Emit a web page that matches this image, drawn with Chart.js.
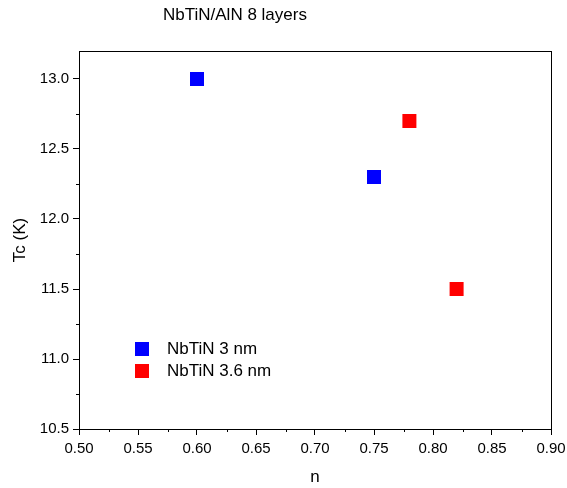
<!DOCTYPE html>
<html><head><meta charset="utf-8">
<script src="https://cdn.jsdelivr.net/npm/chart.js@4.4.0/dist/chart.umd.min.js"></script>
<style>html,body{margin:0;padding:0;background:#fff}</style>
</head><body><canvas id="c" width="567" height="488"></canvas>
<script>
const titleText = 'NbTiN/AlN 8 layers';
const xTitle = 'n';
const yTitle = 'Tc (K)';
const seriesNames = ['NbTiN 3 nm', 'NbTiN 3.6 nm'];
const seriesColors = ['#0000ff', '#ff0000'];
const nb3_n = [0.60, 0.75];
const nb3_tc = [13.0, 12.3];
const nb36_n = [0.78, 0.82];
const nb36_tc = [12.7, 11.5];
const xMin = 0.50, xMax = 0.90, xStep = 0.05;
const yMin = 10.5, yMax = 13.2, yStep = 0.5;

const FONT = "'Liberation Sans', Arial, sans-serif";

function pts(xs, ys){ return xs.map((x,i)=>({x:x, y:ys[i]})); }

const decorPlugin = {
  id: 'decor',
  afterDraw(chart){
    const ctx = chart.ctx, a = chart.chartArea;
    const xs = chart.scales.x, ys = chart.scales.y;
    ctx.save();
    ctx.strokeStyle = '#000'; ctx.lineWidth = 1;
    ctx.strokeRect(Math.round(a.left)+0.5, Math.round(a.top)+0.5, Math.round(a.right-a.left), Math.round(a.bottom-a.top));
    ctx.beginPath();
    for (let v = xMin + xStep/2; v < xMax; v += xStep){
      const px = Math.round(xs.getPixelForValue(v))+0.5;
      ctx.moveTo(px, a.bottom); ctx.lineTo(px, a.bottom+3);
    }
    for (let v = yMin + yStep/2; v < yMax; v += yStep){
      const py = Math.round(ys.getPixelForValue(v))+0.5;
      ctx.moveTo(a.left, py); ctx.lineTo(a.left-3, py);
    }
    ctx.stroke();
    ctx.fillStyle = '#000';
    ctx.font = '17px ' + FONT;
    ctx.textAlign = 'left'; ctx.textBaseline = 'middle';
    ctx.fillText(titleText, 163, 15);
    ctx.font = '17px ' + FONT;
    chart.data.datasets.forEach((ds, i) => {
      const cx = a.left + 63, cy = a.bottom - 80 + i*22;
      ctx.fillStyle = ds.backgroundColor;
      ctx.fillRect(cx-7, cy-7, 14, 14);
      ctx.fillStyle = '#000';
      ctx.fillText(ds.label, cx + 25, cy);
    });
    ctx.restore();
  }
};

new Chart(document.getElementById('c'), {
  type: 'scatter',
  data: {
    datasets: [
      {label: seriesNames[0], data: pts(nb3_n, nb3_tc), backgroundColor: seriesColors[0], borderColor: seriesColors[0], pointStyle: 'rect', pointRadius: 9.9, pointHoverRadius: 9.9, borderWidth: 0},
      {label: seriesNames[1], data: pts(nb36_n, nb36_tc), backgroundColor: seriesColors[1], borderColor: seriesColors[1], pointStyle: 'rect', pointRadius: 9.9, pointHoverRadius: 9.9, borderWidth: 0}
    ]
  },
  options: {
    responsive: false, animation: false, devicePixelRatio: 1,
    layout: {padding: {top: 51, right: 16, left: 0, bottom: 0}},
    plugins: {legend: {display: false}, tooltip: {enabled: false}, title: {display: false}},
    scales: {
      x: {
        type: 'linear', min: xMin, max: xMax,
        afterFit(s){ s.height = 59; s.paddingLeft = 0; s.paddingRight = 0; },
        ticks: {stepSize: xStep, includeBounds: false, color: '#000', font: {family: FONT, size: 15}, padding: 5, maxRotation: 0,
          callback: v => Number(v).toFixed(2)},
        grid: {drawOnChartArea: false, drawTicks: true, tickLength: 6, tickColor: '#000'},
        border: {display: true, color: '#000', width: 1},
        title: {display: true, text: xTitle, color: '#000', font: {family: FONT, size: 17}, padding: {top: 0, bottom: 0}}
      },
      y: {
        type: 'linear', min: yMin, max: yMax,
        afterFit(s){ s.width = 79; s.paddingTop = 0; s.paddingBottom = 0; },
        ticks: {stepSize: yStep, includeBounds: false, color: '#000', font: {family: FONT, size: 15}, padding: 4,
          callback: v => Number(v).toFixed(1)},
        grid: {drawOnChartArea: false, drawTicks: true, tickLength: 6, tickColor: '#000'},
        border: {display: true, color: '#000', width: 1},
        title: {display: true, text: yTitle, color: '#000', font: {family: FONT, size: 17}, padding: {top: 10, bottom: 0}}
      }
    }
  },
  plugins: [decorPlugin]
});
</script>
</body></html>
